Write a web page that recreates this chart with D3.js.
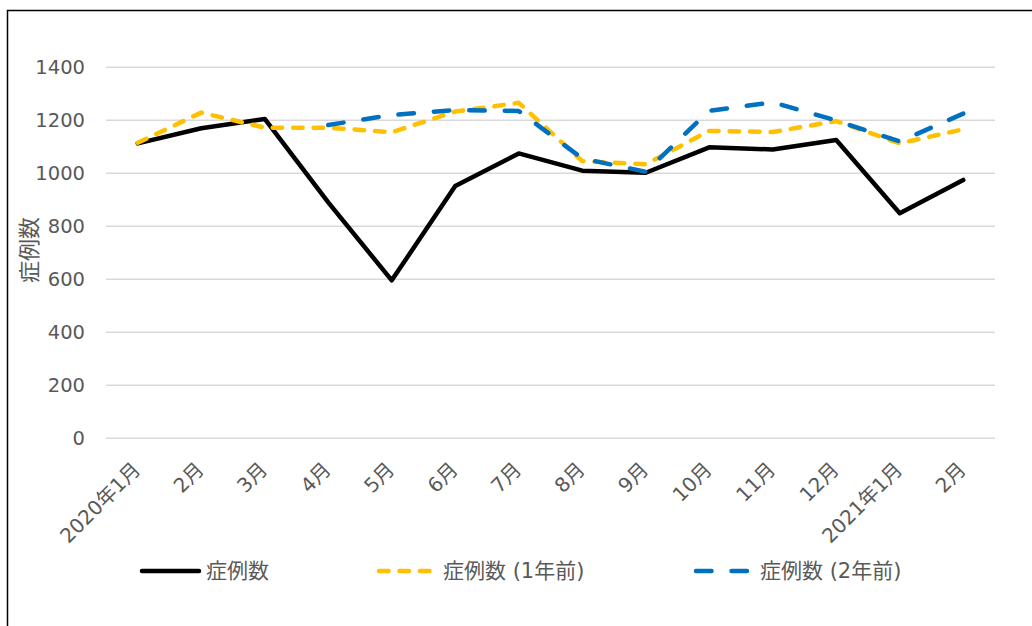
<!DOCTYPE html>
<html>
<head>
<meta charset="utf-8">
<script src="https://cdn.jsdelivr.net/npm/d3@7"></script>
<style>
  body { margin: 0; background: #fff; }
  text { font-family: "DejaVu Sans", "Noto Sans CJK JP", sans-serif; fill: #595959; }
</style>
</head>
<body>
<script>
// Categories (months) and the three series
var months = ["2020年1月", "2月", "3月", "4月", "5月", "6月", "7月", "8月", "9月", "10月", "11月", "12月", "2021年1月", "2月"];
var cases = [1113, 1170, 1205, 890, 596, 952, 1075, 1010, 1002, 1098, 1090, 1126, 849, 975];
var cases1y = [1115, 1229, 1172, 1172, 1155, 1233, 1266, 1046, 1034, 1160, 1156, 1197, 1113, 1166];
var cases2y = [null, null, null, 1182, 1220, 1239, 1235, 1056, 1006, 1236, 1268, 1199, 1120, 1225];
var yTicks = [0, 200, 400, 600, 800, 1000, 1200, 1400];
var seriesNames = ["症例数", "症例数 (1年前)", "症例数 (2年前)"];

var width = 1032, height = 626;

var svg = d3.select("body").append("svg")
    .attr("width", width)
    .attr("height", height);

// outer frame (right and bottom edges fall outside the picture)
svg.append("rect")
    .attr("x", 7.5).attr("y", 10.5)
    .attr("width", 1100).attr("height", 700)
    .attr("fill", "#fff")
    .attr("stroke", "#000")
    .attr("stroke-width", 1.5);

var x = d3.scalePoint()
    .domain(d3.range(months.length))
    .range([106, 995])
    .padding(0.5);

var y = d3.scaleLinear()
    .domain([0, 1400])
    .range([438.3, 67.3]);

// gridlines
svg.append("g")
    .selectAll("line")
    .data(yTicks)
    .enter().append("line")
    .attr("x1", 106).attr("x2", 995)
    .attr("y1", function(d) { return y(d); })
    .attr("y2", function(d) { return y(d); })
    .attr("stroke", "#d9d9d9")
    .attr("stroke-width", 1.5);

// y tick labels
svg.append("g")
    .selectAll("text")
    .data(yTicks)
    .enter().append("text")
    .attr("x", 85)
    .attr("y", function(d) { return y(d); })
    .attr("dy", "0.35em")
    .attr("text-anchor", "end")
    .style("font-size", "19.5px")
    .text(function(d) { return d; });

// y axis title
svg.append("text")
    .attr("transform", "translate(37,250) rotate(-90)")
    .attr("text-anchor", "middle")
    .style("font-size", "22px")
    .text("症例数");

// x tick labels, rotated
svg.append("g")
    .selectAll("text")
    .data(months)
    .enter().append("text")
    .attr("transform", function(d, i) { return "translate(" + (x(i) - 1) + ",466) rotate(-45)"; })
    .attr("text-anchor", "end")
    .attr("dy", "0.35em")
    .style("font-size", "20px")
    .text(function(d) { return d; });

var line = d3.line()
    .defined(function(d) { return d != null; })
    .x(function(d, i) { return x(i); })
    .y(function(d) { return y(d); });

var styles = [
    { data: cases, color: "#000000", dash: null },
    { data: cases1y, color: "#FFC000", dash: "9.5,11" },
    { data: cases2y, color: "#0070C0", dash: "15.5,20" }
];

styles.forEach(function(s) {
    svg.append("path")
        .datum(s.data)
        .attr("d", line)
        .attr("fill", "none")
        .attr("stroke", s.color)
        .attr("stroke-width", 4.5)
        .attr("stroke-linejoin", "round")
        .attr("stroke-linecap", "round")
        .attr("stroke-dasharray", s.dash);
});

// legend
var legendX = [140, 377, 694];
var legend = svg.append("g");
styles.forEach(function(s, i) {
    legend.append("line")
        .attr("x1", legendX[i] + 2).attr("x2", legendX[i] + 59)
        .attr("y1", 571).attr("y2", 571)
        .attr("stroke", s.color)
        .attr("stroke-width", 4.5)
        .attr("stroke-linecap", "round")
        .attr("stroke-dasharray", s.dash);
    legend.append("text")
        .attr("x", legendX[i] + 66)
        .attr("y", 571)
        .attr("dy", "0.35em")
        .style("font-size", "21px")
        .text(seriesNames[i]);
});
</script>
</body>
</html>
